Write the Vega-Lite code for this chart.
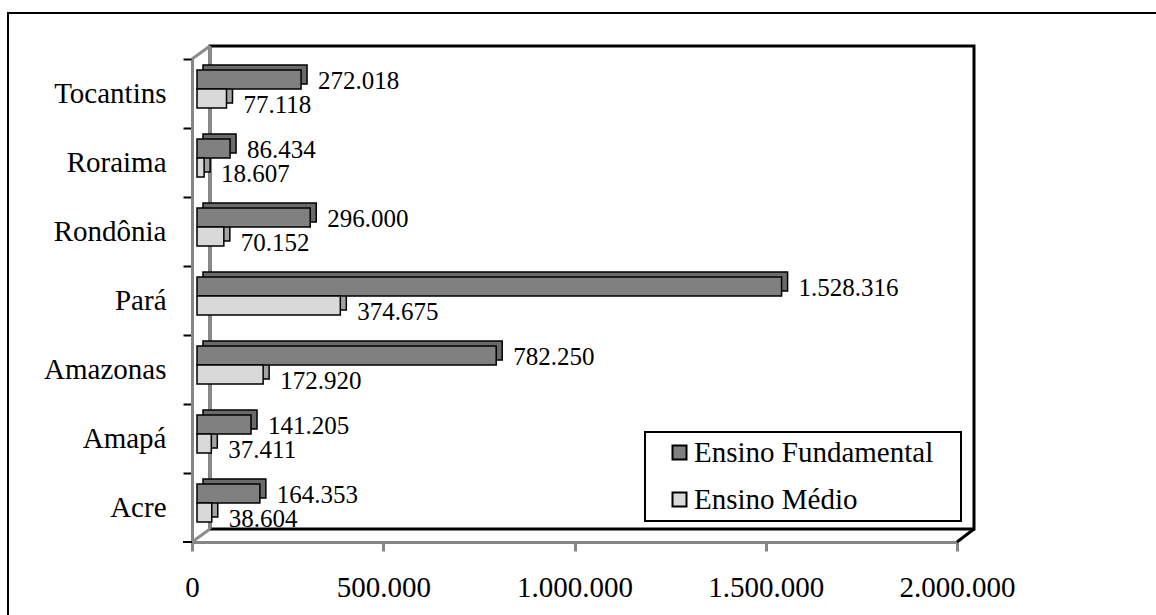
{
  "$schema": "https://vega.github.io/schema/vega-lite/v6.json",
  "width": 765,
  "height": 483,
  "autosize": {"type": "none"},
  "padding": {"left": 192, "top": 59, "right": 199, "bottom": 73},
  "background": "white",
  "config": {
    "view": {"stroke": null},
    "locale": {"number": {"decimal": ",", "thousands": ".", "grouping": [3], "currency": ["R$", ""]}},
    "font": "Liberation Serif"
  },
  "data": {
    "values": [
      {"estado": "Tocantins", "nivel": "Ensino Fundamental", "matriculas": 272018},
      {"estado": "Tocantins", "nivel": "Ensino Médio", "matriculas": 77118},
      {"estado": "Roraima", "nivel": "Ensino Fundamental", "matriculas": 86434},
      {"estado": "Roraima", "nivel": "Ensino Médio", "matriculas": 18607},
      {"estado": "Rondônia", "nivel": "Ensino Fundamental", "matriculas": 296000},
      {"estado": "Rondônia", "nivel": "Ensino Médio", "matriculas": 70152},
      {"estado": "Pará", "nivel": "Ensino Fundamental", "matriculas": 1528316},
      {"estado": "Pará", "nivel": "Ensino Médio", "matriculas": 374675},
      {"estado": "Amazonas", "nivel": "Ensino Fundamental", "matriculas": 782250},
      {"estado": "Amazonas", "nivel": "Ensino Médio", "matriculas": 172920},
      {"estado": "Amapá", "nivel": "Ensino Fundamental", "matriculas": 141205},
      {"estado": "Amapá", "nivel": "Ensino Médio", "matriculas": 37411},
      {"estado": "Acre", "nivel": "Ensino Fundamental", "matriculas": 164353},
      {"estado": "Acre", "nivel": "Ensino Médio", "matriculas": 38604}
    ]
  },
  "layer": [
    {
      "data": {"values": [{}]},
      "mark": {"type": "rect", "fillOpacity": 0, "stroke": "black", "strokeWidth": 2, "xOffset": -184, "x2Offset": 400, "yOffset": -46, "y2Offset": 200},
      "encoding": {
        "x": {"datum": 0, "type": "quantitative"},
        "x2": {"datum": 2000000},
        "y": {"datum": 1, "type": "quantitative", "scale": {"domain": [0, 1]}, "axis": null},
        "y2": {"datum": 0}
      }
    },
    {
      "data": {"values": [{}]},
      "mark": {"type": "rect", "fill": "white", "stroke": "black", "strokeWidth": 3, "xOffset": 18, "x2Offset": 17, "yOffset": -13, "y2Offset": -13},
      "encoding": {
        "x": {"datum": 0, "type": "quantitative"},
        "x2": {"datum": 2000000},
        "y": {"datum": 1, "type": "quantitative", "scale": {"domain": [0, 1]}, "axis": null},
        "y2": {"datum": 0}
      }
    },
    {
      "data": {"values": [{}]},
      "mark": {"type": "rule", "stroke": "#8c8c8c", "strokeWidth": 3, "xOffset": 18, "x2Offset": 18, "yOffset": -13, "y2Offset": -13},
      "encoding": {
        "x": {"datum": 0, "type": "quantitative"},
        "y": {"datum": 1, "type": "quantitative", "scale": {"domain": [0, 1]}, "axis": null},
        "y2": {"datum": 0}
      }
    },
    {
      "data": {"values": [{}]},
      "mark": {"type": "rule", "stroke": "#8c8c8c", "strokeWidth": 3, "x2Offset": 18, "y2Offset": -13},
      "encoding": {
        "x": {"datum": 0, "type": "quantitative"},
        "x2": {"datum": 0},
        "y": {"datum": 1, "type": "quantitative", "scale": {"domain": [0, 1]}, "axis": null},
        "y2": {"datum": 1}
      }
    },
    {
      "data": {"values": [{}]},
      "mark": {"type": "rule", "stroke": "#8c8c8c", "strokeWidth": 3, "x2Offset": 18, "y2Offset": -13},
      "encoding": {
        "x": {"datum": 0, "type": "quantitative"},
        "x2": {"datum": 0},
        "y": {"datum": 0, "type": "quantitative", "scale": {"domain": [0, 1]}, "axis": null},
        "y2": {"datum": 0}
      }
    },
    {
      "data": {"values": [{}]},
      "mark": {"type": "rule", "stroke": "black", "strokeWidth": 3, "x2Offset": 17, "y2Offset": -13},
      "encoding": {
        "x": {"datum": 2000000, "type": "quantitative"},
        "x2": {"datum": 2000000},
        "y": {"datum": 0, "type": "quantitative", "scale": {"domain": [0, 1]}, "axis": null},
        "y2": {"datum": 0}
      }
    },
    {
      "data": {"values": [{}]},
      "mark": {"type": "rule", "stroke": "black", "strokeWidth": 2, "x2Offset": -9},
      "encoding": {
        "x": {"datum": 0, "type": "quantitative"},
        "x2": {"datum": 0},
        "y": {"datum": 0, "type": "quantitative", "scale": {"domain": [0, 1]}, "axis": null},
        "y2": {"datum": 0}
      }
    },
    {
      "mark": {"type": "bar", "stroke": "black", "strokeWidth": 1.5, "xOffset": 11, "x2Offset": 11},
      "encoding": {
        "x": {"field": "matriculas", "type": "quantitative"},
        "y": {"field": "estado", "type": "nominal", "sort": ["Tocantins", "Roraima", "Rondônia", "Pará", "Amazonas", "Amapá", "Acre"], "scale": {"paddingInner": 0.45, "paddingOuter": 0.225}, "axis": null},
        "yOffset": {"field": "nivel", "type": "nominal", "sort": ["Ensino Fundamental", "Ensino Médio"], "scale": {"range": [-9.5, 28.5]}},
        "fill": {"condition": {"test": "datum.nivel === 'Ensino Fundamental'", "value": "#6a6a6a"}, "value": "#a3a3a3"}
      }
    },
    {
      "mark": {"type": "bar", "stroke": "black", "strokeWidth": 1.5, "xOffset": 5, "x2Offset": 5},
      "encoding": {
        "x": {
          "field": "matriculas", "type": "quantitative",
          "scale": {"domain": [0, 2000000], "nice": false},
          "axis": {
            "orient": "bottom", "title": null, "values": [0, 500000, 1000000, 1500000, 2000000], "format": ",d",
            "grid": false, "labelFont": "Liberation Serif", "labelFontSize": 29, "labelColor": "black",
            "labelFlush": false, "labelOverlap": false, "labelPadding": 22,
            "domainColor": "#868686", "domainWidth": 3, "tickColor": "#868686", "tickWidth": 3, "tickSize": 9
          }
        },
        "y": {
          "field": "estado", "type": "nominal",
          "sort": ["Tocantins", "Roraima", "Rondônia", "Pará", "Amazonas", "Amapá", "Acre"],
          "scale": {"paddingInner": 0.45, "paddingOuter": 0.225},
          "axis": {
            "orient": "left", "title": null, "tickOffset": -34.5, "labelOffset": 34.5,
            "labelFont": "Liberation Serif", "labelFontSize": 29,
            "labelColor": "black", "labelPadding": 17, "domainColor": "#868686", "domainWidth": 3,
            "tickColor": "black", "tickWidth": 2, "tickSize": 9
          }
        },
        "yOffset": {"field": "nivel", "type": "nominal", "sort": ["Ensino Fundamental", "Ensino Médio"], "scale": {"range": [-4.5, 33.5]}},
        "color": {
          "field": "nivel", "type": "nominal",
          "scale": {"domain": ["Ensino Fundamental", "Ensino Médio"], "range": ["#808080", "#d9d9d9"]},
          "legend": {
            "title": null, "orient": "none", "legendX": 453, "legendY": 373,
            "fillColor": "white", "strokeColor": "black", "padding": 6,
            "symbolType": "square", "symbolSize": 196, "symbolStrokeColor": "black", "symbolStrokeWidth": 2,
            "symbolOffset": 14, "labelFont": "Liberation Serif", "labelFontSize": 29, "labelColor": "black",
            "labelOffset": 0, "rowPadding": 17, "labelLimit": 500, "labelExpr": "datum.label + '\u00a0\u00a0\u00a0\u200b'",
            "encode": {"legend": {"update": {"strokeWidth": {"value": 2}}}}
          }
        }
      }
    },
    {
      "mark": {"type": "text", "align": "left", "baseline": "middle", "dx": 22, "dy": 0, "font": "Liberation Serif", "fontSize": 25, "color": "black"},
      "encoding": {
        "x": {"field": "matriculas", "type": "quantitative"},
        "y": {"field": "estado", "type": "nominal", "sort": ["Tocantins", "Roraima", "Rondônia", "Pará", "Amazonas", "Amapá", "Acre"], "scale": {"paddingInner": 0.45, "paddingOuter": 0.225}, "axis": null},
        "yOffset": {"field": "nivel", "type": "nominal", "sort": ["Ensino Fundamental", "Ensino Médio"], "scale": {"range": [-5, 42]}},
        "text": {"field": "matriculas", "type": "quantitative", "format": ",d"}
      }
    }
  ],
  "resolve": {"scale": {"y": "independent", "yOffset": "independent"}}
}
